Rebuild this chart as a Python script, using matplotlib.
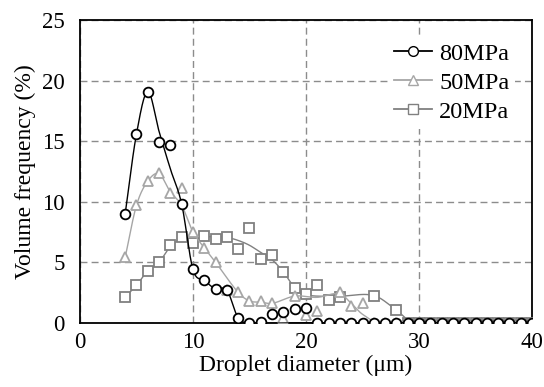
import numpy as np
import matplotlib
matplotlib.use("Agg")
import matplotlib.pyplot as plt
from matplotlib.lines import Line2D

plt.rcParams["font.family"] = ["Liberation Serif", "DejaVu Serif"]

# Measured points (droplet diameter in um, volume frequency in %)
x = list(range(4, 41))
nan = np.nan

p80 = [9.0, 15.6, 19.1, 14.9, 14.7, 9.8, 4.4, 3.5, 2.8, 2.7, 0.4, 0.0, 0.1,
       0.7, 0.9, 1.1, 1.2] + [0.0] * 20
p50 = [5.4, 9.7, 11.7, 12.4, 10.7, 11.1, 7.5, 6.2, 5.0, 2.7, 2.5, 1.8, 1.8,
       1.6, 0.4, 2.2, 0.6, 1.0, nan, 2.5, 1.4, 1.6] + [0.0] * 15
p20 = [2.1, 3.1, 4.3, 5.0, 6.4, 7.05, 6.6, 7.2, 6.9, 7.05, 6.1, 7.8, 5.3,
       5.6, 4.2, 2.9, 2.35, 3.15, 1.85, 2.1, nan, nan, 2.25, nan, 1.05] + [0.0] * 12

# Smoothed trend curves
c80x = [4, 5, 6, 7, 8, 9, 10, 11, 12, 13, 14, 15, 20, 40]
c80y = [9.0, 15.6, 19.1, 15.8, 12.7, 9.8, 4.4, 3.5, 2.8, 2.7, 0.4, 0.0, 0.0, 0.0]
c50x = [4, 5, 6, 7, 8, 9, 10, 11, 12, 14, 15, 16, 17, 19, 21, 23, 24, 25, 26.5, 40]
c50y = [5.4, 9.7, 11.7, 12.3, 10.8, 9.7, 7.5, 6.2, 5.0, 2.5, 1.8, 1.7, 1.6, 2.2,
        2.1, 2.4, 1.6, 0.7, 0.0, 0.0]
c20x = [4, 5, 6, 7, 8, 9, 10, 11, 12, 13, 14, 15, 16, 17, 18, 19, 20, 23, 26, 28, 29.5, 40]
c20y = [2.1, 3.1, 4.3, 5.0, 6.3, 6.95, 7.0, 7.1, 7.1, 7.05, 6.8, 6.4, 5.8, 5.2,
        4.2, 2.9, 2.3, 2.2, 2.25, 1.05, 0.0, 0.0]

labels = ["80MPa", "50MPa", "20MPa"]


def smooth(xs, ys, n=25):
    # cubic Hermite through the points, Catmull-Rom tangents
    xs = np.asarray(xs, float)
    ys = np.asarray(ys, float)
    m = np.zeros_like(ys)
    m[1:-1] = (ys[2:] - ys[:-2]) / (xs[2:] - xs[:-2])
    m[0] = (ys[1] - ys[0]) / (xs[1] - xs[0])
    m[-1] = (ys[-1] - ys[-2]) / (xs[-1] - xs[-2])
    ox, oy = [], []
    t = np.linspace(0, 1, n)
    for i in range(len(xs) - 1):
        h = xs[i + 1] - xs[i]
        h00 = 2 * t ** 3 - 3 * t ** 2 + 1
        h10 = t ** 3 - 2 * t ** 2 + t
        h01 = -2 * t ** 3 + 3 * t ** 2
        h11 = t ** 3 - t ** 2
        ox.extend(xs[i] + t * h)
        oy.extend(h00 * ys[i] + h10 * h * m[i] + h01 * ys[i + 1] + h11 * h * m[i + 1])
    return ox, oy


fig = plt.figure(figsize=(5.44, 3.87), dpi=100)
ax = fig.add_axes([0.147, 0.166, 0.831, 0.782])

styles = [
    (p80, c80x, c80y, "o", "black", 5, 7),
    (p50, c50x, c50y, "^", "#a6a6a6", 4, 7.5),
    (p20, c20x, c20y, "s", "#808080", 3, 6.5),
]
handles = []
for (vals, cx, cy, mk, col, z, ms), lab in zip(styles, labels):
    sx, sy = smooth(cx, cy)
    ax.plot(sx, sy, color=col, lw=1.0, zorder=z)
    ax.plot(x, vals, ls="none", marker=mk, ms=ms,
            mfc="white", mec=col, mew=1.3, zorder=z)
    handles.append(Line2D([0], [0], color=col, lw=1.3, marker=mk, ms=7,
                          mfc="white", mec=col, mew=1.0, label=lab))

ax.set_xlim(0, 40)
ax.set_ylim(0, 25)
ax.set_xticks([0, 10, 20, 30, 40])
ax.set_yticks([0, 5, 10, 15, 20, 25])
ax.grid(True, color="#8c8c8c", ls=(0, (5, 3)), lw=1.0)
ax.set_axisbelow(True)
ax.tick_params(length=0, labelsize=16.5)
ax.tick_params(axis="x", pad=7)
ax.tick_params(axis="y", pad=11)
for s in ax.spines.values():
    s.set_linewidth(1.3)
    s.set_color("black")

ax.set_xlabel("Droplet diameter (\u03bcm)", fontsize=17, labelpad=1)
ax.set_ylabel("Volume frequency (%)", fontsize=17, labelpad=4)

leg = ax.legend(handles=handles, loc="upper right", bbox_to_anchor=(0.99, 0.985),
                frameon=True, fontsize=17.5, handlelength=1.55, handletextpad=0.3,
                labelspacing=0.28, borderpad=0.25, fancybox=False)
leg.get_frame().set_edgecolor("none")
leg.get_frame().set_facecolor("white")
leg.get_frame().set_alpha(1)

fig.savefig("out.png", dpi=100)
